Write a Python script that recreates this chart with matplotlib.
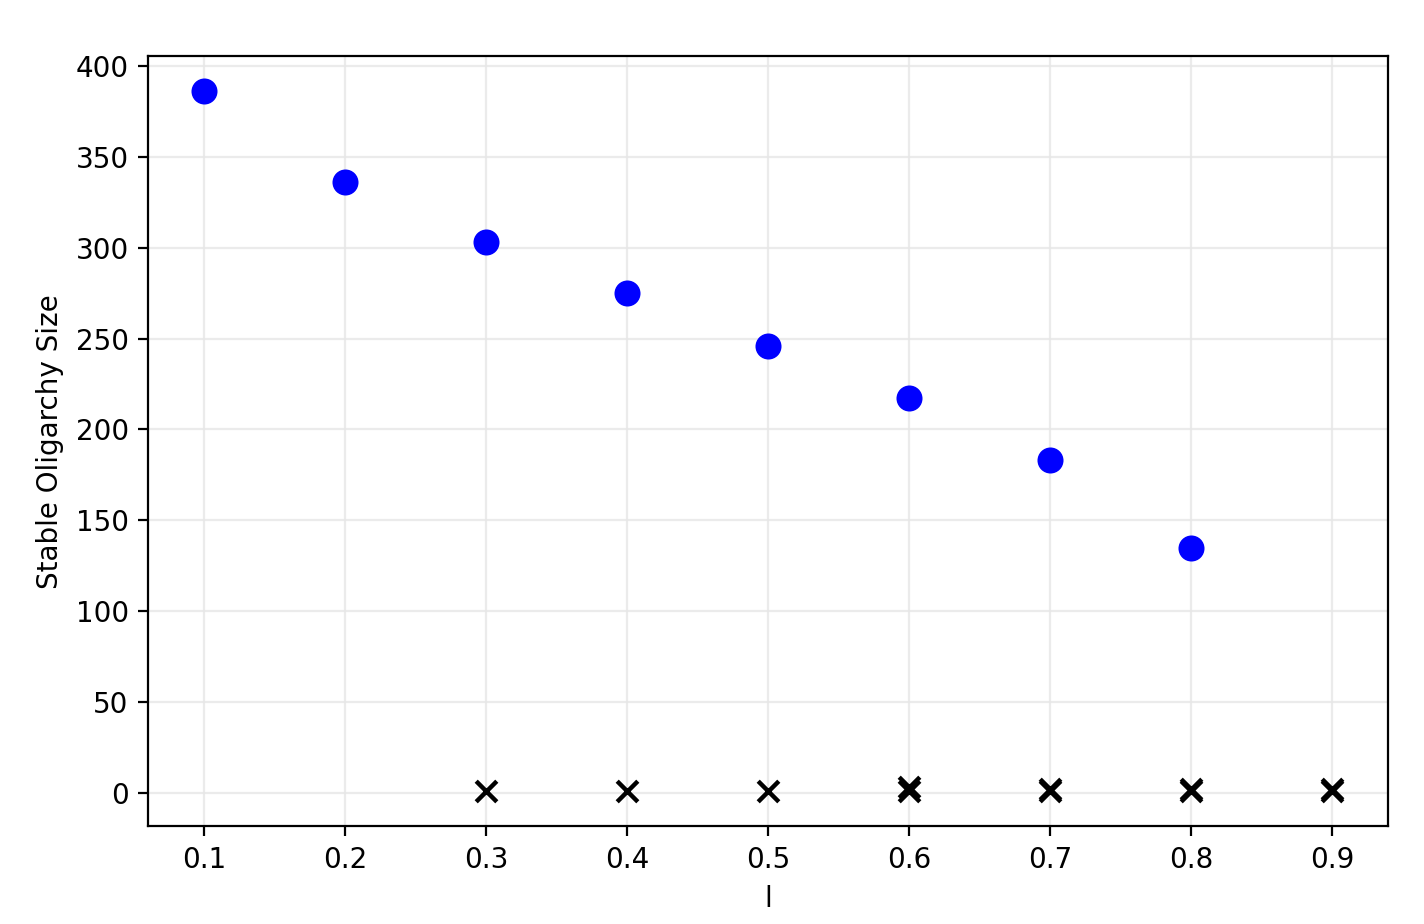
import numpy as np
from matplotlib import pyplot as plt

# stable oligarchy sizes (blue dots)
l_stable = [0.1, 0.2, 0.3, 0.4, 0.5, 0.6, 0.7, 0.8]
size_stable = [386, 336, 303, 275, 246, 217, 183, 135]

# unstable / trivial outcomes (black crosses)
l_cross = [0.3, 0.4, 0.5, 0.6, 0.6, 0.7, 0.7, 0.8, 0.8, 0.9, 0.9]
size_cross = [1, 1, 1, 1, 3, 1, 2, 1, 2, 1, 2]

fig = plt.figure(figsize=(7.12, 4.62), dpi=200)
ax = fig.add_axes([0.104, 0.106, 0.871, 0.833])

ax.scatter(l_stable, size_stable, s=70, color='blue', zorder=3)
ax.scatter(l_cross, size_cross, s=55, marker='x', color='black', linewidths=1.6, zorder=3)

ax.grid(True, color='#e6e6e6', linewidth=0.8, alpha=0.8)
ax.set_axisbelow(True)
ax.set_xticks(np.round(np.arange(0.1, 1.0, 0.1), 1))
ax.set_xlabel('l')
ax.set_ylabel('Stable Oligarchy Size')

fig.savefig('out.png', dpi=200)
